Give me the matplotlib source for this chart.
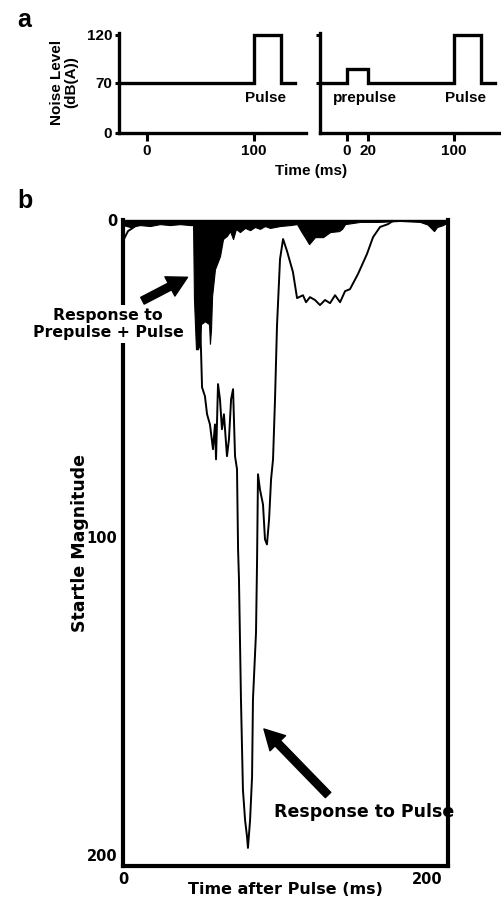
import numpy as np
import matplotlib
matplotlib.use("Agg")
import matplotlib.pyplot as plt

# ---------------- Data ----------------
# Panel a: stimulus schematics (time in ms, level in dB(A))
t_pulse_only = [-26, 100, 100, 125, 125, 138]
lvl_pulse_only = [70, 70, 120, 120, 70, 70]
t_prepulse = [-25, 0, 0, 20, 20, 100, 100, 125, 125, 138]
lvl_prepulse = [70, 70, 85, 85, 70, 70, 120, 120, 70, 70]
a_yticks = [0, 70, 120]
a_xticks_left = [0, 100]
a_xticks_right = [0, 20, 100]

# Panel b: startle traces (time after pulse in ms, startle magnitude)
t_pulse = [0, 3.3, 9.2, 17.8, 30.9, 44.1, 48.7, 50, 51.3, 52, 53.9, 55.3, 57.2,
           59.2, 60.5, 61.2, 62.5, 63.8, 65.1, 66.4, 68.4, 69.7, 71.1, 72.4,
           73.7, 75, 75.7, 76.3, 77.6, 78.9, 80.3, 81.6, 82.2, 83.6, 84.9,
           85.5, 87.5, 88.2, 88.8, 90.1, 92.1, 93.4, 94.7, 96.1, 97.4, 98.7,
           100, 101.3, 103.3, 105.3, 107.9, 111.8, 114.5, 118.4, 120.4, 123,
           126.3, 129.6, 132.9, 136.2, 139.5, 142.8, 146.1, 149.3, 154.6,
           160.5, 164.5, 169.1, 174.3, 177.6, 182.2, 195.4, 208.6, 213.8]
y_pulse = [6.6, 3.5, 1.6, 0.9, 0.9, 1.3, 1.6, 25, 40.7, 52.7, 55.5, 61.2, 64.4,
           72.2, 64.4, 75.4, 51.7, 56.5, 65.9, 61.2, 74.4, 69.1, 56.5, 53.3,
           74.4, 78.5, 103.8, 113.2, 151, 179.5, 189, 194.3, 197.8, 189, 175.4,
           151, 130, 107, 80.1, 84.9, 89.6, 100.6, 102.2, 94.3, 81.7, 75.4,
           56.5, 33.4, 12.3, 6.0, 9.8, 16.4, 24.6, 23.7, 25.9, 24.3, 25.2,
           26.8, 25.2, 26.2, 23.7, 25.9, 22.4, 21.8, 17.0, 10.7, 5.4, 2.2,
           1.3, 0.3, 0.3, 0.3, 0.6, 0.3]
t_prepulse_resp = [0, 4.6, 11.2, 17.8, 24.3, 30.9, 37.5, 44.1, 46.1, 46.7,
                   48.0, 49.3, 50.7, 51.3, 53.9, 56.6, 57.2, 57.9, 58.6, 60.5,
                   63.8, 65.8, 68.4, 70.4, 72.4, 74.3, 76.9, 80.3, 83.6, 86.8,
                   90.1, 93.4, 96.7, 103.3, 109.9, 114.5, 117.1, 120.4, 122.4,
                   126.3, 131.6, 136.2, 142.1, 144.1, 146.1, 155.9, 168.4,
                   182.2, 195.4, 201.3, 200.7, 204.6, 206.6, 210.5, 213.8]
y_prepulse_resp = [1.6, 2.2, 1.6, 1.9, 1.3, 1.6, 1.3, 1.6, 1.6, 25, 40.7,
                   40.7, 39.0, 32.8, 31.9, 32.8, 39.0, 34.4, 24.0, 15.5, 11.4,
                   6.0, 5.0, 3.5, 6.0, 2.8, 3.8, 2.5, 3.2, 2.2, 2.8, 1.9, 2.5,
                   1.9, 1.6, 1.3, 3.5, 6.0, 7.6, 5.4, 5.4, 3.8, 3.5, 2.8, 1.3,
                   0.6, 0.6, 0.3, 0.6, 1.6, 1.6, 3.5, 2.2, 1.6, 0.6]
b_xticks = [0, 200]
b_yticks = [0, 100, 200]

# ---------------- Figure ----------------
W, H = 502, 899
fig = plt.figure(figsize=(W / 100, H / 100), dpi=100)


def fx(px):
    return px / W


def fy(py):
    return 1 - py / H


# piecewise scale for the schematic level axis
_lv = [-100, 0, 70, 120, 300]
_ps = [-71.4, 0, 50, 98, 270.8]


def fwd(v):
    return np.interp(v, _lv, _ps)


def inv(v):
    return np.interp(v, _ps, _lv)


FA = ["Liberation Sans", "DejaVu Sans"]
FB = ["DejaVu Sans"]

spw = 2.4
for (left, right, t, lv, xt, xlim, show_y) in [
        (119, 306, t_pulse_only, lvl_pulse_only, a_xticks_left, (-26.2, 148.6), True),
        (320, 502, t_prepulse, lvl_prepulse, a_xticks_right, (-25.2, 144.9), False)]:
    ax = fig.add_axes([fx(left), fy(133), fx(right) - fx(left), fy(33) - fy(133)])
    ax.set_yscale("function", functions=(fwd, inv))
    ax.plot(t, lv, color="black", lw=2.4, solid_joinstyle="miter", clip_on=False)
    ax.set_xlim(*xlim)
    ax.set_ylim(0, 122)
    for s in ["top", "right"]:
        ax.spines[s].set_visible(False)
    for s in ["left", "bottom"]:
        ax.spines[s].set_linewidth(spw)
    ax.set_xticks(xt)
    ax.set_xticklabels([str(v) for v in xt], family=FA, fontweight="bold", fontsize=11)
    ax.tick_params(axis="x", length=6, width=2.2, pad=2)
    if show_y:
        ax.set_yticks(a_yticks)
        ax.set_yticklabels([str(v) for v in a_yticks], family=FA, fontweight="bold", fontsize=11)
        ax.tick_params(axis="y", length=3, width=2.2, pad=2)
    else:
        ax.set_yticks([70, 120])
        ax.set_yticklabels([])
        ax.tick_params(axis="y", length=3, width=2.2)
    ax.set_facecolor("none")

fig.text(fx(266), fy(98), "Pulse", family=FA, fontweight="bold", fontsize=11, ha="center", va="center")
fig.text(fx(365), fy(98), "prepulse", family=FA, fontweight="bold", fontsize=11, ha="center", va="center")
fig.text(fx(466), fy(98), "Pulse", family=FA, fontweight="bold", fontsize=11, ha="center", va="center")
fig.text(fx(311), fy(171), "Time (ms)", family=FA, fontweight="bold", fontsize=11, ha="center", va="center")
fig.text(fx(64), fy(82), "Noise Level\n(dB(A))", family=FA, fontweight="bold", fontsize=11,
         ha="center", va="center", rotation=90, linespacing=1.0)
fig.text(fx(24), fy(20), "a", family=FA, fontweight="bold", fontsize=18, ha="center", va="center")
fig.text(fx(25), fy(201), "b", family=FA, fontweight="bold", fontsize=18, ha="center", va="center")

# ---------------- Panel b ----------------
axb = fig.add_axes([fx(123), fy(866), fx(448) - fx(123), fy(220) - fy(866)])
axb.fill_between(t_prepulse_resp, 0, y_prepulse_resp, color="black", lw=0.8, zorder=2)
axb.plot(t_pulse, y_pulse, color="black", lw=1.4, zorder=3)
axb.set_xlim(0, 213.8)
axb.set_ylim(203.5, 0)
axb.set_xticks(b_xticks)
axb.set_xticklabels([str(v) for v in b_xticks], family=FB, fontweight="bold", fontsize=10.5)
axb.set_yticks(b_yticks)
axb.set_yticklabels([str(v) for v in b_yticks], family=FB, fontweight="bold", fontsize=10.5)
axb.tick_params(length=0, pad=4)
for s in ["left", "bottom", "right"]:
    axb.spines[s].set_linewidth(3.0)
axb.spines["top"].set_linewidth(1.0)
axb.set_xlabel("Time after Pulse (ms)", family=FB, fontweight="bold", fontsize=11.5, labelpad=-3)
axb.set_ylabel("Startle Magnitude", family=FB, fontweight="bold", fontsize=12.5, labelpad=-2)

fig.text(fx(108), fy(324), "Response to\nPrepulse + Pulse", family=FB, fontweight="bold",
         fontsize=11.3, ha="center", va="center", linespacing=1.2,
         bbox=dict(fc="white", ec="none", pad=2))
fig.text(fx(364), fy(812), "Response to Pulse", family=FB, fontweight="bold",
         fontsize=12.5, ha="center", va="center")

astyle = "simple,head_length=1.1,head_width=1.2,tail_width=0.42"
fig.add_artist(matplotlib.patches.FancyArrowPatch(
    (fx(140), fy(302)), (fx(190), fy(276)), transform=fig.transFigure,
    arrowstyle=astyle, mutation_scale=13, fc="black", ec="black"))
fig.add_artist(matplotlib.patches.FancyArrowPatch(
    (fx(330), fy(797)), (fx(262), fy(727)), transform=fig.transFigure,
    arrowstyle=astyle, mutation_scale=13, fc="black", ec="black"))

fig.savefig("out.png", dpi=100)
